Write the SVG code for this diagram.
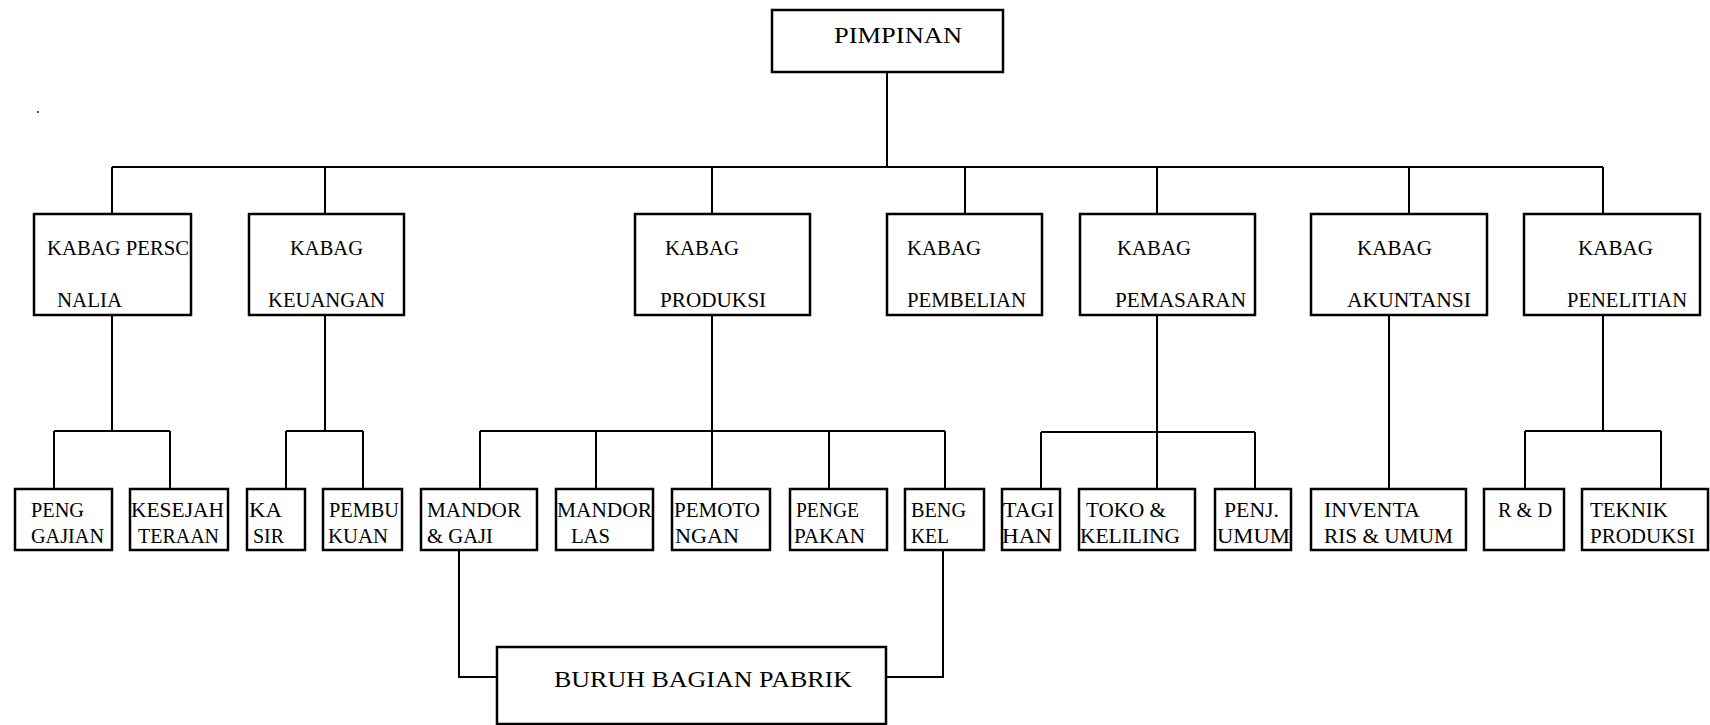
<svg xmlns="http://www.w3.org/2000/svg" width="1710" height="725" viewBox="0 0 1710 725">
<style>
.box{fill:#fff;stroke:#000;stroke-width:2.5}
.ln{fill:none;stroke:#000;stroke-width:2}
text{font-family:"Liberation Serif","Times New Roman",serif;fill:#000;font-size:20px}
.big{font-size:24px}
</style>
<rect width="1710" height="725" fill="#fff"/>
<rect x="37" y="111" width="2" height="2" fill="#555"/>
<g id="connectors">
<path class="ln" d="M887,72V167M112,167H1603M112,167V214M325,167V214M712,167V214M965,167V214M1157,167V214M1409,167V214M1603,167V214"/>
<path class="ln" d="M112,315V431M54,431H170M54,431V489M170,431V489"/>
<path class="ln" d="M325,315V431M286,431H363M286,431V489M363,431V489"/>
<path class="ln" d="M712,315V489M480,431H945M480,431V489M596,431V489M829,431V489M945,431V489"/>
<path class="ln" d="M1157,315V489M1041,432H1255M1041,432V489M1255,432V489"/>
<path class="ln" d="M1389,315V489"/>
<path class="ln" d="M1603,315V431M1525,431H1661M1525,431V489M1661,431V489"/>
<path class="ln" d="M459,550V677H497M943,550V677H886"/>
</g>
<g id="pimpinan"><rect class="box" x="772" y="10" width="231" height="62"/><text class="big" x="834" y="43" textLength="128" lengthAdjust="spacingAndGlyphs">PIMPINAN</text></g>
<g id="kabag-personalia"><rect class="box" x="34" y="214" width="157" height="101"/><text x="47" y="255" textLength="142" lengthAdjust="spacingAndGlyphs">KABAG PERSC</text><text x="57" y="307" textLength="65" lengthAdjust="spacingAndGlyphs">NALIA</text></g>
<g id="kabag-keuangan"><rect class="box" x="249" y="214" width="155" height="101"/><text x="290" y="255" textLength="73" lengthAdjust="spacingAndGlyphs">KABAG</text><text x="268" y="307" textLength="117" lengthAdjust="spacingAndGlyphs">KEUANGAN</text></g>
<g id="kabag-produksi"><rect class="box" x="635" y="214" width="175" height="101"/><text x="665" y="255" textLength="74" lengthAdjust="spacingAndGlyphs">KABAG</text><text x="660" y="307" textLength="106" lengthAdjust="spacingAndGlyphs">PRODUKSI</text></g>
<g id="kabag-pembelian"><rect class="box" x="887" y="214" width="155" height="101"/><text x="907" y="255" textLength="74" lengthAdjust="spacingAndGlyphs">KABAG</text><text x="907" y="307" textLength="119" lengthAdjust="spacingAndGlyphs">PEMBELIAN</text></g>
<g id="kabag-pemasaran"><rect class="box" x="1080" y="214" width="175" height="101"/><text x="1117" y="255" textLength="74" lengthAdjust="spacingAndGlyphs">KABAG</text><text x="1115" y="307" textLength="131" lengthAdjust="spacingAndGlyphs">PEMASARAN</text></g>
<g id="kabag-akuntansi"><rect class="box" x="1311" y="214" width="176" height="101"/><text x="1357" y="255" textLength="75" lengthAdjust="spacingAndGlyphs">KABAG</text><text x="1347" y="307" textLength="124" lengthAdjust="spacingAndGlyphs">AKUNTANSI</text></g>
<g id="kabag-penelitian"><rect class="box" x="1524" y="214" width="176" height="101"/><text x="1578" y="255" textLength="75" lengthAdjust="spacingAndGlyphs">KABAG</text><text x="1567" y="307" textLength="120" lengthAdjust="spacingAndGlyphs">PENELITIAN</text></g>
<g id="penggajian"><rect class="box" x="15" y="489" width="97" height="61"/><text x="31" y="517" textLength="53" lengthAdjust="spacingAndGlyphs">PENG</text><text x="31" y="543" textLength="73" lengthAdjust="spacingAndGlyphs">GAJIAN</text></g>
<g id="kesejahteraan"><rect class="box" x="130" y="489" width="98" height="61"/><text x="131" y="517" textLength="93" lengthAdjust="spacingAndGlyphs">KESEJAH</text><text x="138" y="543" textLength="81" lengthAdjust="spacingAndGlyphs">TERAAN</text></g>
<g id="kasir"><rect class="box" x="247" y="489" width="58" height="61"/><text x="249" y="517" textLength="33" lengthAdjust="spacingAndGlyphs">KA</text><text x="253" y="543" textLength="31" lengthAdjust="spacingAndGlyphs">SIR</text></g>
<g id="pembukuan"><rect class="box" x="323" y="489" width="79" height="61"/><text x="329" y="517" textLength="70" lengthAdjust="spacingAndGlyphs">PEMBU</text><text x="328" y="543" textLength="60" lengthAdjust="spacingAndGlyphs">KUAN</text></g>
<g id="mandor-gaji"><rect class="box" x="421" y="489" width="116" height="61"/><text x="427" y="517" textLength="94" lengthAdjust="spacingAndGlyphs">MANDOR</text><text x="427" y="543" textLength="66" lengthAdjust="spacingAndGlyphs">&amp; GAJI</text></g>
<g id="mandor-las"><rect class="box" x="556" y="489" width="97" height="61"/><text x="557" y="517" textLength="95" lengthAdjust="spacingAndGlyphs">MANDOR</text><text x="571" y="543" textLength="39" lengthAdjust="spacingAndGlyphs">LAS</text></g>
<g id="pemotongan"><rect class="box" x="672" y="489" width="98" height="61"/><text x="674" y="517" textLength="86" lengthAdjust="spacingAndGlyphs">PEMOTO</text><text x="675" y="543" textLength="64" lengthAdjust="spacingAndGlyphs">NGAN</text></g>
<g id="pengepakan"><rect class="box" x="790" y="489" width="97" height="61"/><text x="796" y="517" textLength="63" lengthAdjust="spacingAndGlyphs">PENGE</text><text x="794" y="543" textLength="71" lengthAdjust="spacingAndGlyphs">PAKAN</text></g>
<g id="bengkel"><rect class="box" x="905" y="489" width="79" height="61"/><text x="911" y="517" textLength="55" lengthAdjust="spacingAndGlyphs">BENG</text><text x="911" y="543" textLength="38" lengthAdjust="spacingAndGlyphs">KEL</text></g>
<g id="tagihan"><rect class="box" x="1002" y="489" width="58" height="61"/><text x="1003" y="517" textLength="51" lengthAdjust="spacingAndGlyphs">TAGI</text><text x="1002" y="543" textLength="50" lengthAdjust="spacingAndGlyphs">HAN</text></g>
<g id="toko-keliling"><rect class="box" x="1079" y="489" width="116" height="61"/><text x="1086" y="517" textLength="80" lengthAdjust="spacingAndGlyphs">TOKO &amp;</text><text x="1080" y="543" textLength="100" lengthAdjust="spacingAndGlyphs">KELILING</text></g>
<g id="penj-umum"><rect class="box" x="1215" y="489" width="76" height="61"/><text x="1224" y="517" textLength="55" lengthAdjust="spacingAndGlyphs">PENJ.</text><text x="1217" y="543" textLength="73" lengthAdjust="spacingAndGlyphs">UMUM</text></g>
<g id="inventaris"><rect class="box" x="1311" y="489" width="155" height="61"/><text x="1324" y="517" textLength="96" lengthAdjust="spacingAndGlyphs">INVENTA</text><text x="1324" y="543" textLength="129" lengthAdjust="spacingAndGlyphs">RIS &amp; UMUM</text></g>
<g id="r-d"><rect class="box" x="1484" y="489" width="80" height="61"/><text x="1498" y="517" textLength="54" lengthAdjust="spacingAndGlyphs">R &amp; D</text></g>
<g id="teknik-produksi"><rect class="box" x="1582" y="489" width="126" height="61"/><text x="1590" y="517" textLength="78" lengthAdjust="spacingAndGlyphs">TEKNIK</text><text x="1590" y="543" textLength="105" lengthAdjust="spacingAndGlyphs">PRODUKSI</text></g>
<g id="buruh"><rect class="box" x="497" y="647" width="389" height="77"/><text class="big" x="554" y="687" textLength="298" lengthAdjust="spacingAndGlyphs">BURUH BAGIAN PABRIK</text></g>
</svg>
